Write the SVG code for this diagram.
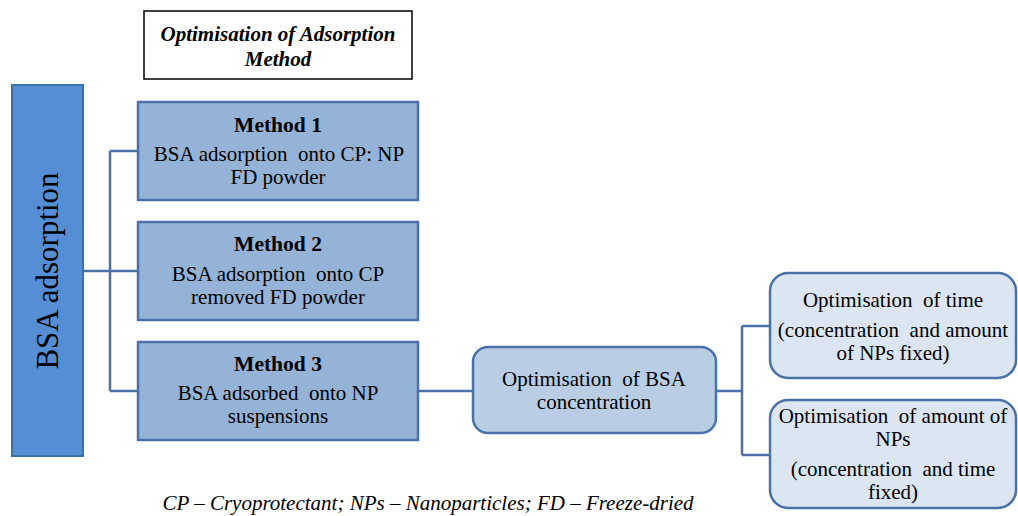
<svg xmlns="http://www.w3.org/2000/svg" width="1018" height="516" viewBox="0 0 1018 516">
<style>
text{font-family:'Liberation Serif','Times New Roman',serif;fill:#000;text-anchor:middle}
.t{font-size:21px}
.b{font-size:21.5px;font-weight:bold}
.h{font-size:21px;font-weight:bold;font-style:italic}
.m{fill:#95b3d7;stroke:#4a72a8;stroke-width:2.5}
.c{fill:#b9cde5;stroke:#4a72a8;stroke-width:2.5}
.r{fill:#dce6f2;stroke:#4a72a8;stroke-width:2.5}
.conn{fill:none;stroke:#4a72a8;stroke-width:2.5}
</style>
<rect width="1018" height="516" fill="#fff"/>
<g id="title">
<rect x="144" y="11" width="268" height="68" fill="#fff" stroke="#000" stroke-width="1.5"/>
<text class="h" x="278" y="41">Optimisation of Adsorption</text>
<text class="h" x="278" y="66">Method</text>
</g>
<g id="connectors">
<path class="conn" d="M83,271 H110 M110,151 V391 M110,151 H138 M110,391 H138 M110,271 H138"/>
<path class="conn" d="M418,391 H473"/>
<path class="conn" d="M716,391 H742 M742,326 V455 M742,326 H770 M742,455 H770"/>
</g>
<g id="bsa">
<rect x="12" y="85" width="71" height="371" fill="#558ed5" stroke="#3d6fa8" stroke-width="2"/>
<text transform="translate(58,271) rotate(-90)" style="font-size:31px">BSA adsorption</text>
</g>
<g id="method1">
<rect class="m" x="138" y="102" width="280" height="98"/>
<text class="b" x="278" y="132">Method 1</text>
<text class="t" x="279" y="161" xml:space="preserve">BSA adsorption  onto CP: NP</text>
<text class="t" x="278" y="184">FD powder</text>
</g>
<g id="method2">
<rect class="m" x="138" y="222" width="280" height="98"/>
<text class="b" x="278" y="251">Method 2</text>
<text class="t" x="278" y="281" xml:space="preserve">BSA adsorption  onto CP</text>
<text class="t" x="278" y="304">removed FD powder</text>
</g>
<g id="method3">
<rect class="m" x="138" y="342" width="280" height="98"/>
<text class="b" x="278" y="371">Method 3</text>
<text class="t" x="278" y="400" xml:space="preserve">BSA adsorbed  onto NP</text>
<text class="t" x="278" y="423">suspensions</text>
</g>
<g id="bsaconc">
<rect class="c" x="473" y="347" width="243" height="86" rx="15"/>
<text class="t" x="594" y="386" xml:space="preserve">Optimisation  of BSA</text>
<text class="t" x="594" y="409">concentration</text>
</g>
<g id="opttime">
<rect class="r" x="770" y="273" width="246" height="105" rx="18"/>
<text class="t" x="893" y="307" xml:space="preserve">Optimisation  of time</text>
<text class="t" x="893" y="337" xml:space="preserve">(concentration  and amount</text>
<text class="t" x="893" y="360">of NPs fixed)</text>
</g>
<g id="optamount">
<rect class="r" x="770" y="400" width="246" height="108" rx="18"/>
<text class="t" x="893" y="423" xml:space="preserve">Optimisation  of amount of</text>
<text class="t" x="893" y="446">NPs</text>
<text class="t" x="893" y="476" xml:space="preserve">(concentration  and time</text>
<text class="t" x="893" y="499">fixed)</text>
</g>
<text x="428" y="510" style="font-size:21px;font-style:italic">CP – Cryoprotectant; NPs – Nanoparticles; FD – Freeze-dried</text>
</svg>
